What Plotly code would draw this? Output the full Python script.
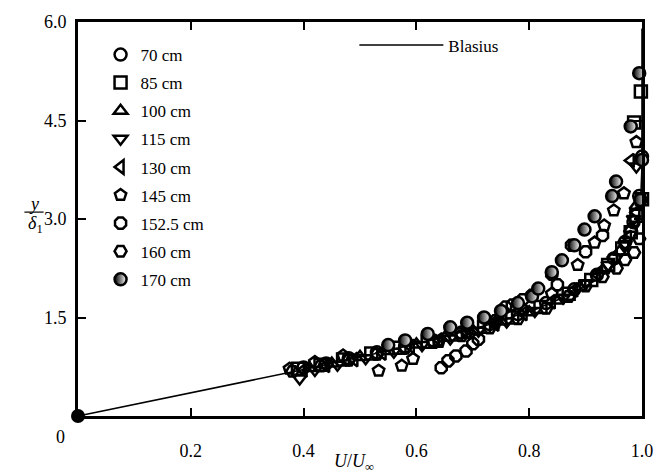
import plotly.graph_objects as go

# ---------------- data ----------------
blasius_u = [0.0, 0.1328, 0.2647, 0.3938, 0.5168, 0.6298, 0.7290, 0.8115, 0.8761, 0.9233,
             0.9555, 0.9759, 0.9878, 0.9943, 0.9975, 0.9990, 0.9996, 1.0, 1.0]
blasius_y = [0.0, 0.232, 0.465, 0.697, 0.930, 1.162, 1.395, 1.627, 1.860, 2.092,
             2.325, 2.557, 2.789, 3.022, 3.254, 3.487, 3.719, 4.5, 5.9]

labels = ["70 cm", "85 cm", "100 cm", "115 cm", "130 cm", "145 cm", "152.5 cm", "160 cm", "170 cm"]

x70 = [0.40, 0.44, 0.48, 0.53, 0.58, 0.63, 0.68, 0.73, 0.78, 0.83, 0.88, 0.92, 0.95, 0.97, 0.985, 0.995, 1.0]
y70 = [0.74, 0.80, 0.88, 0.97, 1.06, 1.15, 1.27, 1.40, 1.55, 1.72, 1.93, 2.15, 2.40, 2.65, 2.95, 3.35, 3.95]

x85 = [0.39, 0.43, 0.47, 0.52, 0.57, 0.62, 0.67, 0.72, 0.77, 0.82, 0.87, 0.91, 0.94, 0.965, 0.98, 0.99, 1.0, 1.015, 1.015, 0.998, 0.986]
y85 = [0.72, 0.78, 0.86, 0.95, 1.04, 1.13, 1.24, 1.36, 1.50, 1.66, 1.86, 2.07, 2.30, 2.55, 2.80, 3.05, 3.30, 3.04, 3.99, 4.94, 4.47]

x100 = [0.41, 0.45, 0.50, 0.55, 0.60, 0.65, 0.70, 0.75, 0.80, 0.85, 0.89, 0.93, 0.96, 0.98, 0.99]
y100 = [0.73, 0.80, 0.90, 0.99, 1.09, 1.19, 1.30, 1.44, 1.58, 1.76, 1.96, 2.22, 2.50, 2.85, 3.20]

x115 = [0.393, 0.42, 0.46, 0.51, 0.56, 0.61, 0.66, 0.71, 0.76, 0.81, 0.86, 0.90, 0.94, 0.97, 0.985, 0.99]
y115 = [0.57, 0.70, 0.78, 0.88, 0.98, 1.08, 1.18, 1.30, 1.44, 1.60, 1.80, 2.02, 2.30, 2.62, 3.00, 3.80]

x130 = [0.40, 0.44, 0.49, 0.54, 0.59, 0.64, 0.69, 0.74, 0.79, 0.84, 0.88, 0.92, 0.95, 0.975, 0.99, 0.98]
y130 = [0.70, 0.77, 0.86, 0.96, 1.06, 1.16, 1.27, 1.40, 1.56, 1.74, 1.92, 2.16, 2.42, 2.72, 3.10, 3.89]

x145 = [0.375, 0.42, 0.47, 0.533, 0.574, 0.594, 0.64, 0.69, 0.74, 0.79, 0.84, 0.886, 0.916, 0.933, 0.95, 0.968, 0.99]
y145 = [0.72, 0.82, 0.92, 0.69, 0.765, 0.87, 1.13, 1.27, 1.42, 1.62, 1.86, 2.30, 2.64, 2.90, 3.13, 3.39, 4.17]

x152 = [0.644, 0.656, 0.67, 0.688, 0.70, 0.71, 0.74, 0.758, 0.77, 0.788, 0.805, 0.84, 0.85, 0.875, 0.90, 0.93]
y152 = [0.735, 0.84, 0.915, 0.99, 1.10, 1.17, 1.45, 1.66, 1.69, 1.77, 1.84, 2.16, 2.00, 2.60, 2.50, 2.75]

x160 = [0.38, 0.43, 0.48, 0.53, 0.58, 0.63, 0.68, 0.73, 0.78, 0.83, 0.87, 0.90, 0.93, 0.955, 0.97, 0.986, 0.995]
y160 = [0.68, 0.76, 0.85, 0.94, 1.03, 1.12, 1.22, 1.34, 1.48, 1.64, 1.82, 1.98, 2.12, 2.25, 2.38, 2.49, 2.70]

x170 = [0.55, 0.58, 0.62, 0.66, 0.69, 0.72, 0.75, 0.78, 0.805, 0.816, 0.84, 0.858, 0.88, 0.898, 0.916, 0.947, 0.954, 0.98, 0.995, 1.0, 0.997]
y170 = [1.08, 1.15, 1.25, 1.35, 1.42, 1.50, 1.60, 1.72, 1.82, 1.94, 2.19, 2.37, 2.60, 2.84, 3.04, 3.35, 3.57, 4.41, 5.22, 3.90, 3.29]

x_ticks = [0, 0.2, 0.4, 0.6, 0.8, 1.0]
x_ticktext = ["", "0.2", "0.4", "0.6", "0.8", "1.0"]
y_ticks = [0, 1.5, 3.0, 4.5, 6.0]
y_ticktext = ["", "1.5", "3.0", "4.5", "6.0"]

series_x = [x70, x85, x100, x115, x130, x145, x152, x160, x170]
series_y = [y70, y85, y100, y115, y130, y145, y152, y160, y170]
symbols = ["circle-open", "square-open", "triangle-up-open", "triangle-down-open",
           "triangle-left-open", "pentagon-open", "octagon-open", "hexagon2-open", "circle"]

FONT = "Liberation Serif, Times New Roman, serif"
TSIZE = 18

fig = go.Figure()

fig.add_trace(go.Scatter(
    x=blasius_u, y=blasius_y, mode="lines", name="Blasius",
    line=dict(color="black", width=1.6), legend="legend2", cliponaxis=False))

for i, (lab, xs, ys, sym) in enumerate(zip(labels, series_x, series_y, symbols)):
    if sym == "circle":
        marker = dict(symbol="circle", size=12, color="black",
                      line=dict(color="black", width=2.5),
                      gradient=dict(type="horizontal", color="white"))
    else:
        marker = dict(symbol=sym, size=12, color="black", line=dict(color="black", width=2.5))
    fig.add_trace(go.Scatter(x=xs, y=ys, mode="markers", name=lab, marker=marker,
                             legendgroup=lab, cliponaxis=False))

# origin point
fig.add_trace(go.Scatter(x=[0], y=[0], mode="markers", showlegend=False,
                         marker=dict(symbol="circle", size=14, color="black"), cliponaxis=False))

axis_common = dict(showline=True, linewidth=3, linecolor="black", mirror="ticks",
                   ticks="inside", ticklen=8, tickwidth=1.5, tickcolor="black",
                   showgrid=False, zeroline=False,
                   tickfont=dict(family=FONT, size=TSIZE, color="black"))

fig.update_xaxes(range=[0, 1.0], tickvals=x_ticks, ticktext=x_ticktext,
                 ticklabelstandoff=16, **axis_common)
fig.update_yaxes(range=[0, 6.0], tickvals=y_ticks, ticktext=y_ticktext,
                 ticklabelstandoff=5, **axis_common)

fig.update_layout(
    width=665, height=476,
    margin=dict(l=78, r=16, t=15, b=60),
    plot_bgcolor="white", paper_bgcolor="white",
    font=dict(family=FONT, size=16, color="black"),
    showlegend=True,
    legend=dict(x=0.04, y=0.962, xanchor="left", yanchor="top",
                bgcolor="rgba(0,0,0,0)", font=dict(family=FONT, size=17),
                traceorder="grouped", tracegroupgap=3, itemwidth=30),
    legend2=dict(x=0.49, y=0.986, xanchor="left", yanchor="top",
                 bgcolor="rgba(0,0,0,0)", font=dict(family=FONT, size=17),
                 itemwidth=84),
    annotations=[
        dict(text="0", x=(60 - 78) / 571, y=(416 - 437) / 401, xref="paper", yref="paper",
             showarrow=False, xanchor="center", yanchor="middle",
             font=dict(family=FONT, size=TSIZE)),
        dict(text="<i>U</i>/<i>U</i><sub>∞</sub>", x=0.49, y=-0.118, xref="paper", yref="paper",
             showarrow=False, xanchor="center", yanchor="middle", font=dict(family=FONT, size=TSIZE)),
        dict(text="<i>y</i>", x=-0.078, y=0.537, xref="paper", yref="paper",
             showarrow=False, xanchor="center", yanchor="middle", font=dict(family=FONT, size=TSIZE)),
        dict(text="<i>δ</i><sub>1</sub>", x=-0.076, y=0.485, xref="paper", yref="paper",
             showarrow=False, xanchor="center", yanchor="middle", font=dict(family=FONT, size=TSIZE)),
    ],
    shapes=[dict(type="line", xref="paper", yref="paper", x0=-0.095, x1=-0.061,
                 y0=0.5175, y1=0.5175, line=dict(color="black", width=1.2))],
)

fig.write_html("out.html")
